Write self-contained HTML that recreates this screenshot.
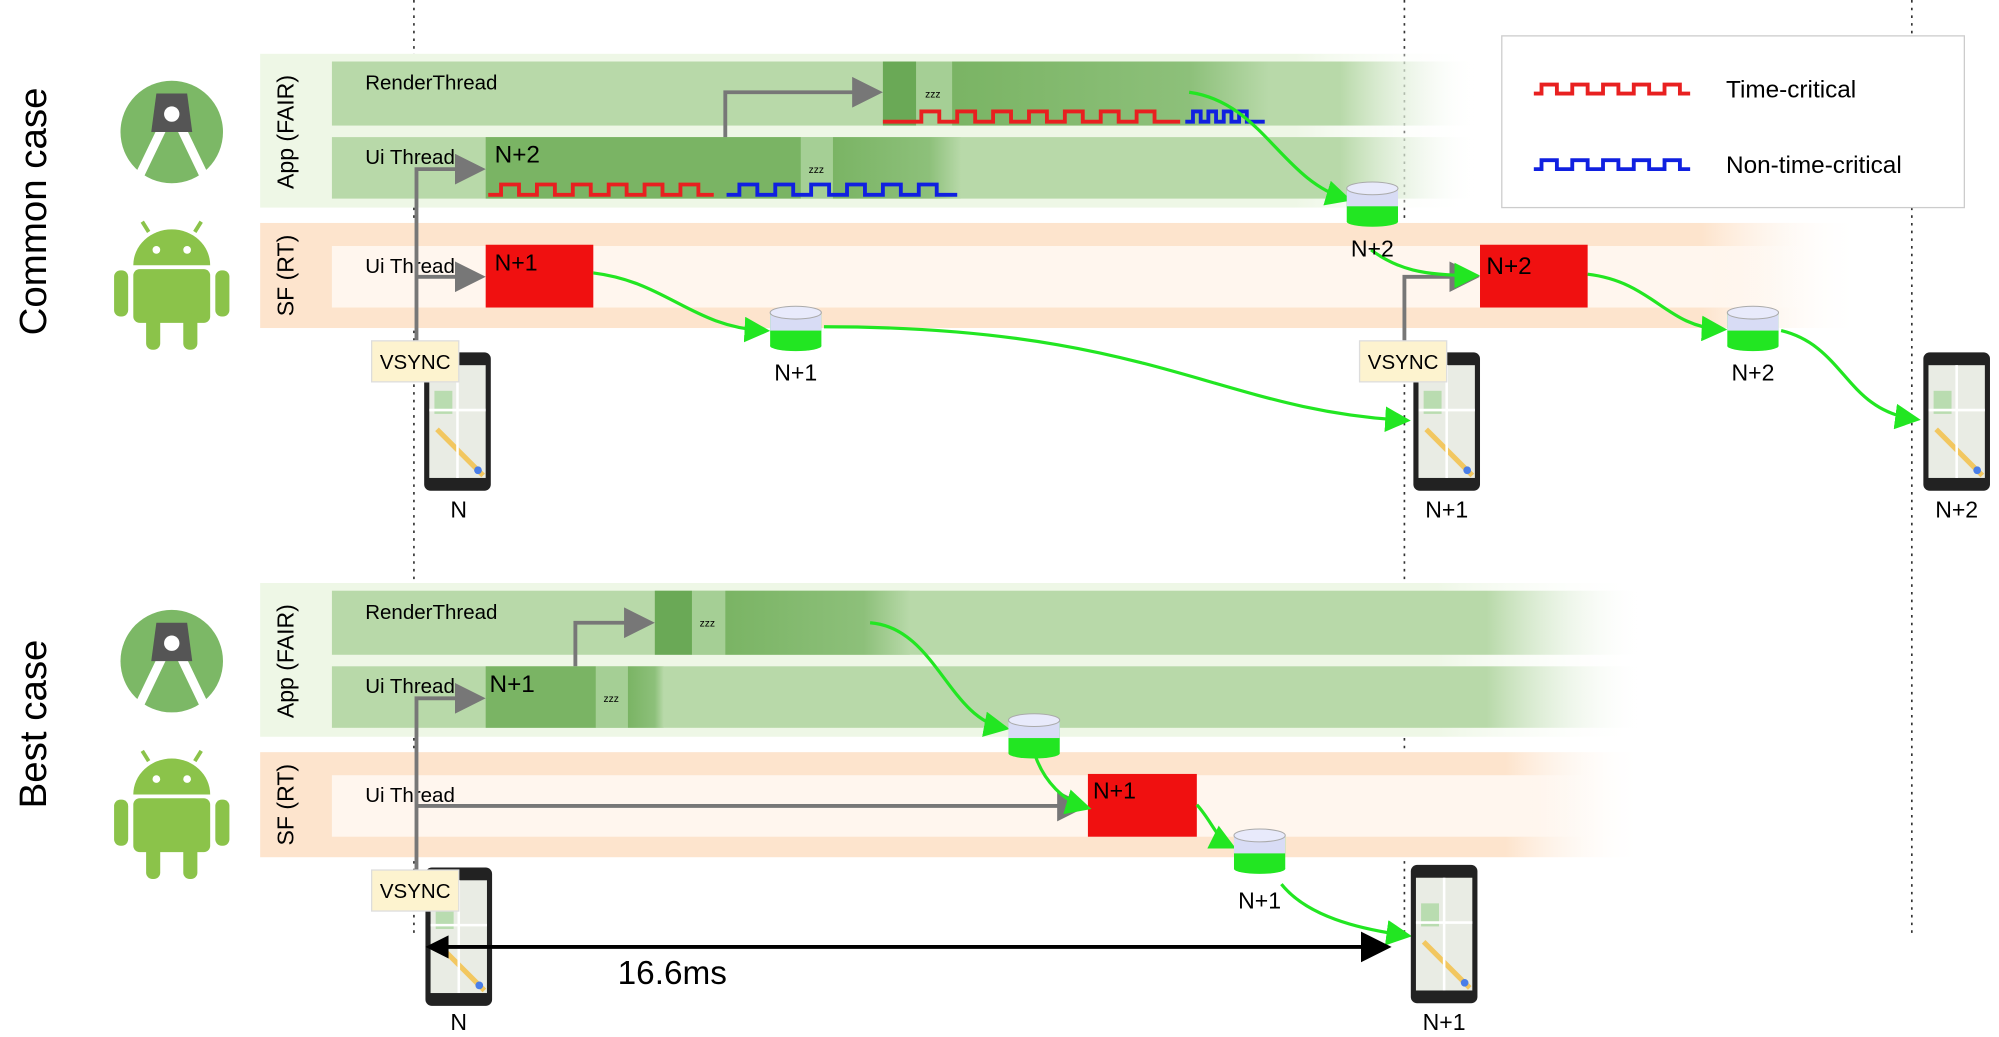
<!DOCTYPE html>
<html><head><meta charset="utf-8"><style>
html,body{margin:0;padding:0;background:#fff}
svg{display:block;font-family:"Liberation Sans",sans-serif}
</style></head><body>
<svg width="1999" height="1037" viewBox="0 0 1560 809.3" xmlns="http://www.w3.org/2000/svg">
<defs>
<linearGradient id="fadeG" x1="0" x2="1"><stop offset="0" stop-color="#eef7e6"/><stop offset="0.85" stop-color="#eef7e6"/><stop offset="1" stop-color="#fff" stop-opacity="0"/></linearGradient>
<linearGradient id="rowG" x1="0" x2="1"><stop offset="0" stop-color="#b8d9a9"/><stop offset="0.88" stop-color="#b8d9a9"/><stop offset="1" stop-color="#fff" stop-opacity="0"/></linearGradient>
<linearGradient id="sfG" x1="0" x2="1"><stop offset="0" stop-color="#fde4cd"/><stop offset="0.9" stop-color="#fde4cd"/><stop offset="1" stop-color="#fff" stop-opacity="0"/></linearGradient>
<linearGradient id="sfRow" x1="0" x2="1"><stop offset="0" stop-color="#fff6ee"/><stop offset="0.9" stop-color="#fff6ee"/><stop offset="1" stop-color="#fff" stop-opacity="0"/></linearGradient>
<linearGradient id="darkFade" x1="0" x2="1"><stop offset="0" stop-color="#7ab464"/><stop offset="0.75" stop-color="#8dc07a"/><stop offset="1" stop-color="#b8d9a9"/></linearGradient>
<marker id="ag" markerWidth="8" markerHeight="8" refX="6" refY="4" orient="auto"><path d="M0,0 L8,4 L0,8 z" fill="#22e622"/></marker>
<marker id="agr" markerWidth="8" markerHeight="8" refX="6" refY="4" orient="auto"><path d="M0,0 L8,4 L0,8 z" fill="#777"/></marker>
<marker id="ab" markerWidth="8" markerHeight="8" refX="6" refY="4" orient="auto"><path d="M0,0 L8,4 L0,8 z" fill="#000"/></marker>
<g id="cyl"><rect x="-20" y="-8" width="40" height="26" fill="#22e622"/><rect x="-20" y="-8" width="40" height="14" fill="#d8dcf5"/><ellipse cx="0" cy="-8" rx="20" ry="5" fill="#e8eafb" stroke="#aaa" stroke-width="0.8"/><ellipse cx="0" cy="18" rx="20" ry="4" fill="#22e622"/></g>
<g id="phone"><rect x="0" y="0" width="52" height="108" rx="5" fill="#222"/><rect x="4" y="10" width="44" height="88" fill="#e9ece4"/><path d="M10,60 L30,80 L46,96" stroke="#f2c760" stroke-width="4" fill="none"/><rect x="8" y="30" width="14" height="18" fill="#b9dcb0"/><path d="M4,45 H48 M26,10 V98" stroke="#fff" stroke-width="2"/><circle cx="42" cy="92" r="3" fill="#4a7ee8"/></g>
<g id="android"><rect x="-30" y="-5" width="60" height="42" rx="5" fill="#8bc34a"/><path d="M-30,-8 A30,28 0 0 1 30,-8 Z" fill="#8bc34a"/><rect x="-45" y="-4" width="11" height="36" rx="5" fill="#8bc34a"/><rect x="34" y="-4" width="11" height="36" rx="5" fill="#8bc34a"/><rect x="-20" y="30" width="11" height="28" rx="5" fill="#8bc34a"/><rect x="9" y="30" width="11" height="28" rx="5" fill="#8bc34a"/><circle cx="-12" cy="-20" r="3" fill="#fff"/><circle cx="12" cy="-20" r="3" fill="#fff"/><path d="M-18,-34 L-23,-42 M18,-34 L23,-42" stroke="#8bc34a" stroke-width="3"/></g>
<g id="studio"><circle r="40" fill="#7cb866"/><path d="M-28,40 L-4,-10 M28,40 L4,-10" stroke="#fff" stroke-width="7"/><path d="M-12,-30 L12,-30 L16,0 L-16,0 Z" fill="#555"/><circle cy="-14" r="6" fill="#fff"/></g>
</defs>

<g stroke="#333" stroke-width="1.3" stroke-dasharray="2,4">
<line x1="323" y1="0" x2="323" y2="730"/><line x1="1096" y1="0" x2="1096" y2="730"/><line x1="1492" y1="0" x2="1492" y2="730"/>
</g>

<text transform="translate(36,165) rotate(-90)" text-anchor="middle" font-size="30">Common case</text>
<text transform="translate(36,565) rotate(-90)" text-anchor="middle" font-size="30">Best case</text>

<use href="#studio" x="134" y="103"/>
<use href="#android" x="134" y="215"/>
<use href="#studio" x="134" y="516"/>
<use href="#android" x="134" y="628"/>

<g>
<rect x="203" y="42" width="950" height="120" fill="url(#fadeG)"/>
<text transform="translate(229,103) rotate(-90)" text-anchor="middle" font-size="18">App (FAIR)</text>
<rect x="259" y="48" width="894" height="50" fill="url(#rowG)"/>
<text x="285" y="70" font-size="16">RenderThread</text>
<rect x="259" y="107" width="894" height="48" fill="url(#rowG)"/>
<text x="285" y="128" font-size="16">Ui Thread</text>
<rect x="379" y="107" width="246" height="48" fill="#7ab464"/>
<rect x="625" y="107" width="25" height="48" fill="#a5cf95"/><text x="631" y="135" font-size="8">zzz</text>
<rect x="650" y="107" width="100" height="48" fill="url(#darkFade)"/>
<text x="386" y="127" font-size="19">N+2</text>
<rect x="689" y="48" width="26" height="50" fill="#6aa956"/>
<rect x="715" y="48" width="28" height="50" fill="#a5cf95"/><text x="722" y="76" font-size="8">zzz</text>
<rect x="743" y="48" width="247" height="50" fill="url(#darkFade)"/>
</g>
<path d="M381,152 h10 v-8 h14 v8 h14 v-8 h14 v8 h14 v-8 h14 v8 h14 v-8 h14 v8 h14 v-8 h14 v8 h14 v-8 h14 v8 h12" fill="none" stroke="#e82020" stroke-width="3"/>
<path d="M567,152 h10 v-8 h14 v8 h14 v-8 h14 v8 h14 v-8 h14 v8 h14 v-8 h14 v8 h14 v-8 h14 v8 h14 v-8 h14 v8 h16" fill="none" stroke="#1020e0" stroke-width="3"/>
<path d="M689,95 h30 v-8 h14 v8 h14 v-8 h14 v8 h14 v-8 h14 v8 h14 v-8 h14 v8 h14 v-8 h14 v8 h14 v-8 h14 v8 h14 v-8 h14 v8 h20" fill="none" stroke="#e82020" stroke-width="3"/>
<path d="M925,95 h6 v-8 h6 v8 h6 v-8 h6 v8 h6 v-8 h6 v8 h6 v-8 h6 v8 h14" fill="none" stroke="#1020e0" stroke-width="3"/>

<g>
<rect x="203" y="174" width="1250" height="82" fill="url(#sfG)"/>
<text transform="translate(229,215) rotate(-90)" text-anchor="middle" font-size="18">SF (RT)</text>
<rect x="259" y="192" width="1190" height="48" fill="url(#sfRow)"/>
<text x="285" y="213" font-size="16">Ui Thread</text>
<rect x="379" y="191" width="84" height="49" fill="#f01010"/><text x="386" y="211" font-size="18">N+1</text>
<rect x="1155" y="191" width="84" height="49" fill="#f01010"/><text x="1160" y="214" font-size="19">N+2</text>
</g>

<g stroke="#777" stroke-width="3" fill="none">
<path d="M325,268 V132 H373" marker-end="url(#agr)"/>
<path d="M325,216 H373" marker-end="url(#agr)"/>
<path d="M566,107 V72 H683" marker-end="url(#agr)"/>
<path d="M1096,268 V216 H1149" marker-end="url(#agr)"/>
</g>

<g stroke="#22e622" stroke-width="2.5" fill="none">
<path d="M928,72 C985,80 1000,140 1050,155" marker-end="url(#ag)"/>
<path d="M463,213 C520,220 540,255 596,258" marker-end="url(#ag)"/>
<path d="M643,255 C900,255 950,320 1096,328" marker-end="url(#ag)"/>
<path d="M1070,195 C1090,210 1110,215 1150,215" marker-end="url(#ag)"/>
<path d="M1239,214 C1290,220 1300,255 1343,257" marker-end="url(#ag)"/>
<path d="M1390,258 C1440,270 1440,320 1494,327" marker-end="url(#ag)"/>
</g>
<use href="#cyl" x="1071" y="155"/>
<text x="1071" y="200" font-size="18" text-anchor="middle">N+2</text>
<use href="#cyl" x="621" y="252"/>
<text x="621" y="297" font-size="18" text-anchor="middle">N+1</text>
<use href="#cyl" x="1368" y="252"/>
<text x="1368" y="297" font-size="18" text-anchor="middle">N+2</text>

<use href="#phone" x="331" y="275"/>
<text x="358" y="404" font-size="18" text-anchor="middle">N</text>
<use href="#phone" x="1103" y="275"/>
<text x="1129" y="404" font-size="18" text-anchor="middle">N+1</text>
<use href="#phone" x="1501" y="275"/>
<text x="1527" y="404" font-size="18" text-anchor="middle">N+2</text>

<g><rect x="290" y="266" width="68" height="32" fill="#fdf3cf" stroke="#ddd"/><text x="324" y="288" font-size="16" text-anchor="middle">VSYNC</text></g>
<g><rect x="1061" y="266" width="68" height="32" fill="#fdf3cf" stroke="#ddd"/><text x="1095" y="288" font-size="16" text-anchor="middle">VSYNC</text></g>

<g>
<rect x="1172" y="28" width="361" height="134" fill="#fff" stroke="#ccc"/>
<path d="M1197,73 h6 v-7 h12 v7 h12 v-7 h12 v7 h12 v-7 h12 v7 h12 v-7 h12 v7 h12 v-7 h12 v7 h8" fill="none" stroke="#e82020" stroke-width="3"/>
<text x="1347" y="76" font-size="19">Time-critical</text>
<path d="M1197,132 h6 v-7 h12 v7 h12 v-7 h12 v7 h12 v-7 h12 v7 h12 v-7 h12 v7 h12 v-7 h12 v7 h8" fill="none" stroke="#1020e0" stroke-width="3"/>
<text x="1347" y="135" font-size="19">Non-time-critical</text>
</g>

<g>
<rect x="203" y="455" width="1080" height="120" fill="url(#fadeG)"/>
<text transform="translate(229,516) rotate(-90)" text-anchor="middle" font-size="18">App (FAIR)</text>
<rect x="259" y="461" width="1024" height="50" fill="url(#rowG)"/>
<text x="285" y="483" font-size="16">RenderThread</text>
<rect x="259" y="520" width="1024" height="48" fill="url(#rowG)"/>
<text x="285" y="541" font-size="16">Ui Thread</text>
<rect x="379" y="520" width="86" height="48" fill="#7ab464"/><text x="382" y="540" font-size="19">N+1</text>
<rect x="465" y="520" width="25" height="48" fill="#a5cf95"/><text x="471" y="548" font-size="8">zzz</text>
<rect x="490" y="520" width="28" height="48" fill="url(#darkFade)"/>
<rect x="511" y="461" width="29" height="50" fill="#6aa956"/>
<rect x="540" y="461" width="26" height="50" fill="#a5cf95"/><text x="546" y="489" font-size="8">zzz</text>
<rect x="566" y="461" width="144" height="50" fill="url(#darkFade)"/>
</g>
<g>
<rect x="203" y="587" width="1080" height="82" fill="url(#sfG)"/>
<text transform="translate(229,628) rotate(-90)" text-anchor="middle" font-size="18">SF (RT)</text>
<rect x="259" y="605" width="1024" height="48" fill="url(#sfRow)"/>
<text x="285" y="626" font-size="16">Ui Thread</text>
<rect x="849" y="604" width="85" height="49" fill="#f01010"/><text x="853" y="623" font-size="18">N+1</text>
</g>
<g stroke="#777" stroke-width="3" fill="none">
<path d="M325,680 V545 H373" marker-end="url(#agr)"/>
<path d="M325,629 H843" marker-end="url(#agr)"/>
<path d="M449,520 V486 H505" marker-end="url(#agr)"/>
</g>
<g stroke="#22e622" stroke-width="2.5" fill="none">
<path d="M679,486 C730,490 740,560 783,568" marker-end="url(#ag)"/>
<path d="M808,590 C815,610 830,625 847,630" marker-end="url(#ag)"/>
<path d="M934,628 C945,640 950,655 960,660" marker-end="url(#ag)"/>
<path d="M1000,690 C1020,715 1060,725 1097,730" marker-end="url(#ag)"/>
</g>
<use href="#cyl" x="807" y="570"/>
<use href="#cyl" x="983" y="660"/>
<text x="983" y="709" font-size="18" text-anchor="middle">N+1</text>

<use href="#phone" x="332" y="677"/>
<text x="358" y="804" font-size="18" text-anchor="middle">N</text>
<use href="#phone" x="1101" y="675"/>
<text x="1127" y="804" font-size="18" text-anchor="middle">N+1</text>
<g><rect x="290" y="679" width="68" height="32" fill="#fdf3cf" stroke="#ddd"/><text x="324" y="701" font-size="16" text-anchor="middle">VSYNC</text></g>

<g>
<line x1="345" y1="739" x2="1080" y2="739" stroke="#000" stroke-width="3" marker-end="url(#ab)"/>
<path d="M332,739 L350,730 L350,748 Z" fill="#000"/>
<text x="482" y="768" font-size="26">16.6ms</text>
</g>
</svg>
</body></html>
